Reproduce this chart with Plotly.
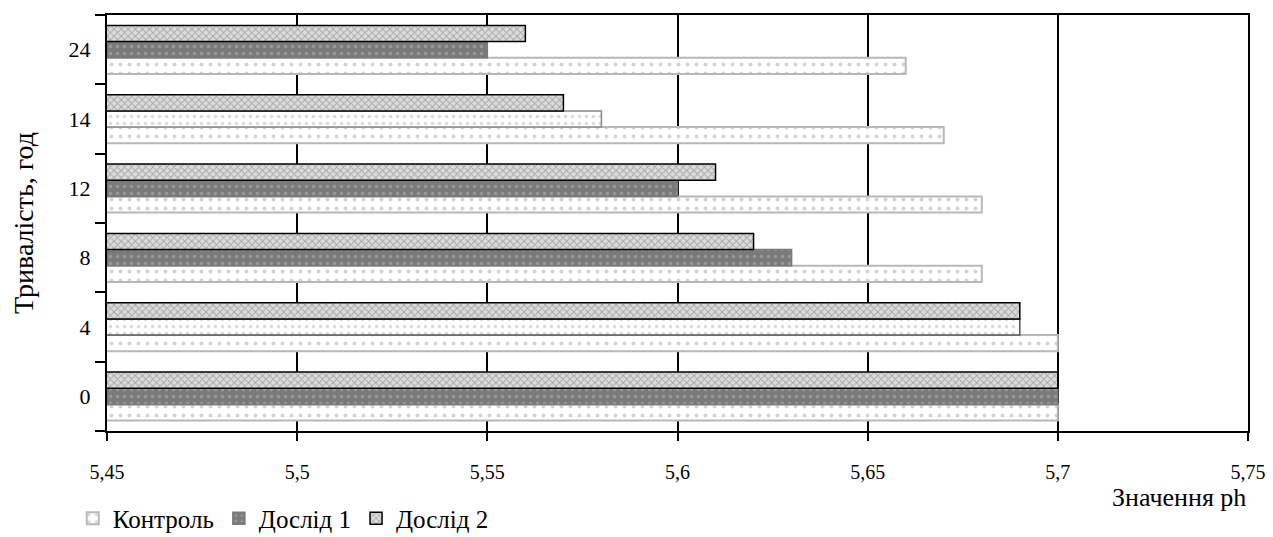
import plotly.graph_objects as go

# Duration of treatment, hours (bottom to top)
durations = ["0", "4", "8", "12", "14", "24"]

# pH values per series
control = [5.70, 5.70, 5.68, 5.68, 5.67, 5.66]
trial_1 = [5.70, 5.69, 5.63, 5.60, 5.58, 5.55]
trial_2 = [5.70, 5.69, 5.62, 5.61, 5.57, 5.56]

x_ticks = [5.45, 5.5, 5.55, 5.6, 5.65, 5.7, 5.75]

serif = "Liberation Serif"

fig = go.Figure()

fig.add_trace(go.Bar(
    name="Контроль", y=durations, x=control, orientation="h", base=0,
    marker=dict(
        color="white",
        line=dict(color="#b8b8b8", width=2),
        pattern=dict(shape=".", bgcolor="white", fgcolor="#a8a8a8",
                     size=9, solidity=0.15),
    ),
))

fig.add_trace(go.Bar(
    name="Дослід 1", y=durations, x=trial_1, orientation="h", base=0,
    marker=dict(
        color="#7a7a7a",
        line=dict(color=["#7a7a7a", "#555555", "#7a7a7a", "#7a7a7a", "#888888", "#7a7a7a"],
                  width=1.5),
        pattern=dict(shape=".",
                     bgcolor=["#7a7a7a", "#ffffff", "#7a7a7a", "#7a7a7a", "#ffffff", "#7a7a7a"],
                     fgcolor="#b5b5b5", size=7, solidity=0.2),
    ),
))

fig.add_trace(go.Bar(
    name="Дослід 2", y=durations, x=trial_2, orientation="h", base=0,
    marker=dict(
        color="#d0d0d0",
        line=dict(color="black", width=1.5),
        pattern=dict(shape="x", bgcolor="#dcdcdc", fgcolor="#707070",
                     size=5, solidity=0.35),
    ),
))

fig.update_layout(
    width=1273, height=537,
    margin=dict(l=107, r=25, t=15, b=106, autoexpand=False),
    barmode="group", bargap=0.3, bargroupgap=0,
    plot_bgcolor="white", paper_bgcolor="white",
    separators=", ",
    font=dict(family=serif, color="black"),
    showlegend=True,
    legend=dict(
        orientation="h", x=-0.03, xanchor="left", y=-0.155, yanchor="top",
        font=dict(family=serif, size=25, color="black"),
        itemwidth=30, bgcolor="rgba(0,0,0,0)",
    ),
    xaxis=dict(
        range=[5.45, 5.75], tickvals=x_ticks,
        ticktext=[str(v).replace(".", ",") for v in x_ticks],
        showgrid=True, gridcolor="black", gridwidth=2,
        ticks="outside", ticklen=8, tickwidth=2, tickcolor="black",
        showline=True, linecolor="black", linewidth=2, mirror=True,
        tickfont=dict(family=serif, size=20), zeroline=False,
        ticklabelstandoff=14, automargin=False,
    ),
    yaxis=dict(
        type="category", categoryorder="array", categoryarray=durations,
        showgrid=False, tickson="boundaries",
        ticks="outside", ticklen=10, tickwidth=2, tickcolor="black",
        showline=True, linecolor="black", linewidth=2, mirror=True,
        tickfont=dict(family=serif, size=22), ticklabelstandoff=10,
        title=dict(text="Тривалість, год", font=dict(family=serif, size=28),
                   standoff=27),
        automargin=False,
    ),
)

fig.add_annotation(
    text="Значення ph", xref="paper", yref="paper",
    x=1.0, y=-0.12, xanchor="right", yanchor="top", showarrow=False,
    font=dict(family=serif, size=26, color="black"),
)

fig.write_html("out.html")
